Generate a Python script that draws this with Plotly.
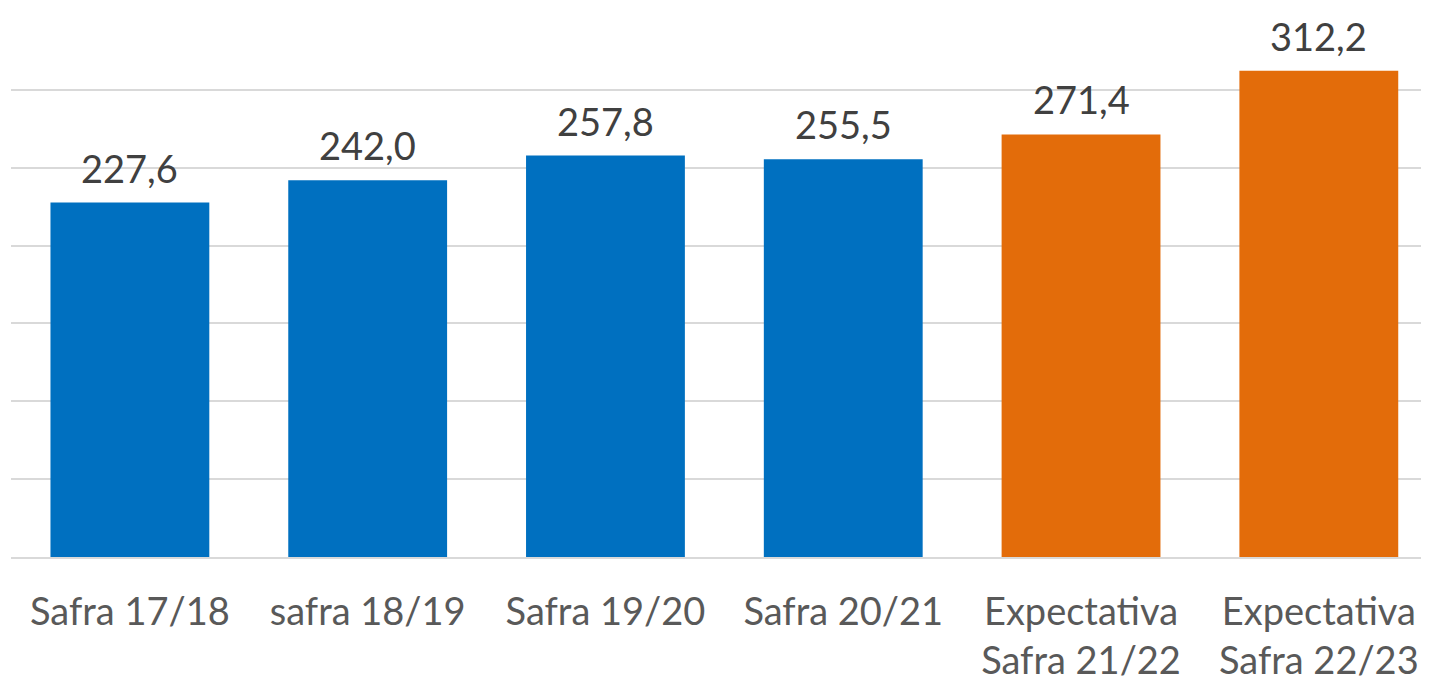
import plotly.graph_objects as go

categories = ["Safra 17/18", "safra 18/19", "Safra 19/20", "Safra 20/21",
              "Expectativa<br>Safra 21/22", "Expectativa<br>Safra 22/23"]
values = [227.6, 242.0, 257.8, 255.5, 271.4, 312.2]
labels = ["227,6", "242,0", "257,8", "255,5", "271,4", "312,2"]
colors = ["#0070C0", "#0070C0", "#0070C0", "#0070C0", "#E36C0A", "#E36C0A"]

fig = go.Figure()
fig.add_trace(go.Bar(
    x=categories, y=values,
    marker=dict(color=colors, line=dict(width=0)),
    hoverinfo="skip",
))

for c, v, t in zip(categories, values, labels):
    fig.add_annotation(
        x=c, y=v, text=t, showarrow=False, yanchor="bottom", yshift=10,
        font=dict(family="Lato", size=38, color="#404040"),
    )

fig.update_layout(
    width=1429, height=682,
    margin=dict(l=3, r=0, t=4, b=133),
    paper_bgcolor="white", plot_bgcolor="white",
    bargap=0.332,
    showlegend=False,
    font=dict(family="Lato"),
)
fig.update_xaxes(
    range=[-0.5, 5.497], automargin=False,
    showgrid=False, showline=True, linecolor="#D9D9D9", linewidth=2,
    ticks="outside", ticklen=20, tickcolor="rgba(0,0,0,0)",
    tickfont=dict(family="Lato", size=38, color="#595959"),
)
fig.update_yaxes(
    range=[0, 350], dtick=50, automargin=False,
    showgrid=True, gridcolor="#D9D9D9", gridwidth=2,
    showticklabels=False, zeroline=False, showline=False,
)

fig.write_html("out.html")
